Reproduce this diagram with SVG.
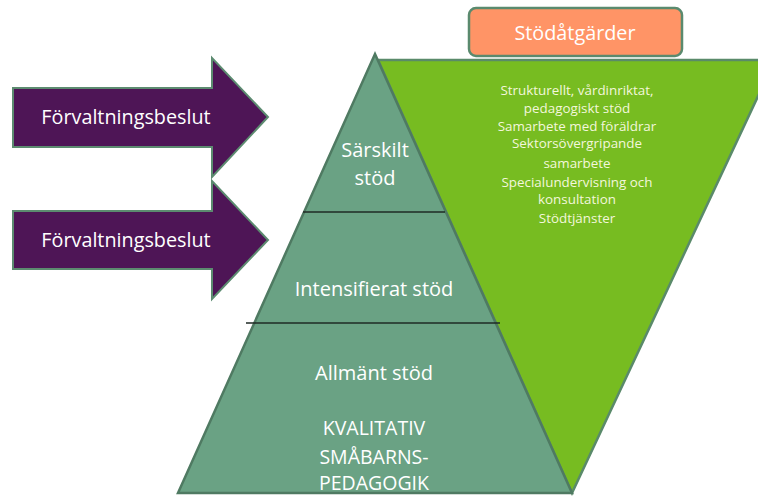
<svg xmlns="http://www.w3.org/2000/svg" width="758" height="496" viewBox="0 0 758 496">
<style>
.lbl{font-family:"Open Sans","Liberation Sans",sans-serif;fill:#ffffff;text-anchor:middle}
.arr{fill:#4e1556;stroke:#5c8b70;stroke-width:2}
.small{font-family:"Open Sans","Liberation Sans",sans-serif;fill:#f3f7dc;text-anchor:middle;font-size:13.4px}
</style>
<rect width="758" height="496" fill="#ffffff"/>
<g id="green-triangle">
<polygon points="378,60 775,60 572,493" fill="#77bc21" stroke="#5a8a6a" stroke-width="2.5"/>
<text class="small" x="577" y="95">Strukturellt, vårdinriktat,</text>
<text class="small" x="577" y="113">pedagogiskt stöd</text>
<text class="small" x="577" y="131">Samarbete med föräldrar</text>
<text class="small" x="577" y="148">Sektorsövergripande</text>
<text class="small" x="577" y="168">samarbete</text>
<text class="small" x="577" y="187">Specialundervisning och</text>
<text class="small" x="577" y="204">konsultation</text>
<text class="small" x="577" y="223">Stödtjänster</text>
</g>
<g id="pyramid">
<polygon points="375,54 572,493 178,493" fill="#6aa284" stroke="#4f7a62" stroke-width="2.5"/>
</g>
<g id="connectors">
<line x1="303" y1="212" x2="445" y2="212" stroke="#1f2a24" stroke-width="1.5"/>
<line x1="246" y1="323" x2="500" y2="323" stroke="#1f2a24" stroke-width="1.5"/>
</g>
<g id="sarskilt">
<text class="lbl" x="375" y="157" font-size="20">Särskilt</text>
<text class="lbl" x="375" y="185" font-size="20">stöd</text>
</g>
<g id="intensifierat">
<text class="lbl" x="374" y="296" font-size="20">Intensifierat stöd</text>
</g>
<g id="allmant">
<text class="lbl" x="374" y="380" font-size="20">Allmänt stöd</text>
<text class="lbl" x="374" y="435" font-size="19.5">KVALITATIV</text>
<text class="lbl" x="374" y="464" font-size="19.5">SMÅBARNS-</text>
<text class="lbl" x="374" y="490" font-size="19.5">PEDAGOGIK</text>
</g>
<g id="stodatgarder">
<rect x="469" y="8" width="213" height="48" rx="7" fill="#ff9466" stroke="#5a8a6e" stroke-width="2.5"/>
<text class="lbl" x="575" y="40" font-size="19.8">Stödåtgärder</text>
</g>
<g id="arrow1">
<polygon class="arr" points="13,88 212,88 212,58 268,117 212,177 212,147 13,147"/>
<text class="lbl" x="126" y="124" font-size="19.8">Förvaltningsbeslut</text>
</g>
<g id="arrow2">
<polygon class="arr" points="13,211 212,211 212,181 268,240 212,299 212,269 13,269"/>
<text class="lbl" x="126" y="247" font-size="19.8">Förvaltningsbeslut</text>
</g>
</svg>
